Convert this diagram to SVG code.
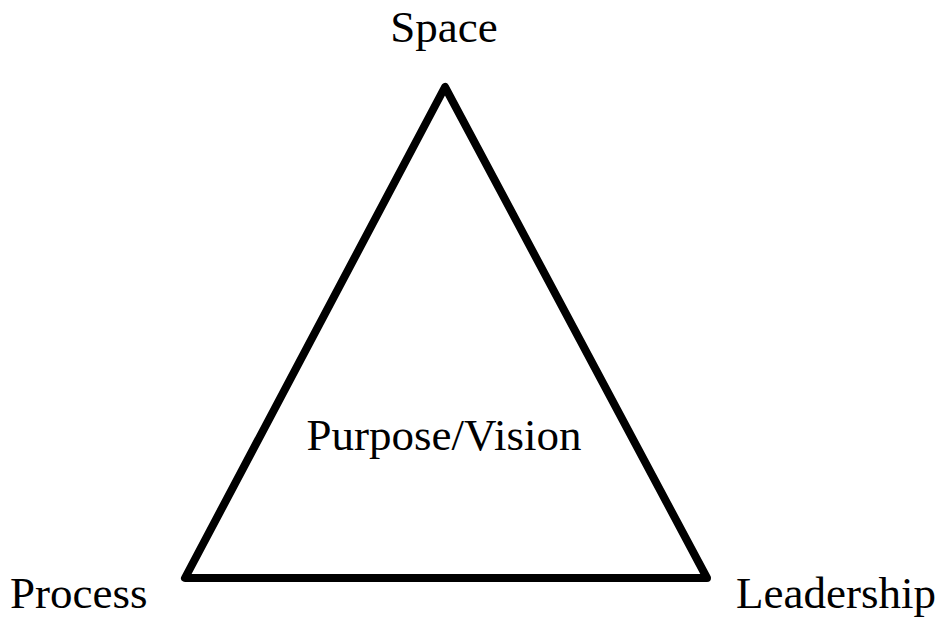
<svg xmlns="http://www.w3.org/2000/svg" width="938" height="617" viewBox="0 0 938 617">
<style>
.t{font-family:"Liberation Serif","Times New Roman",serif;font-size:45px;fill:#000}
</style>
<rect width="938" height="617" fill="#fff"/>
<g id="connectors">
<polygon points="445,87 185,578 707,578" fill="none" stroke="#000" stroke-width="8" stroke-linejoin="round"/>
</g>
<g id="space"><text class="t" x="444" y="42" text-anchor="middle">Space</text></g>
<g id="purpose"><text class="t" x="444" y="450" text-anchor="middle">Purpose/Vision</text></g>
<g id="process"><text class="t" x="10" y="608">Process</text></g>
<g id="leadership"><text class="t" x="736" y="608">Leadership</text></g>
</svg>
